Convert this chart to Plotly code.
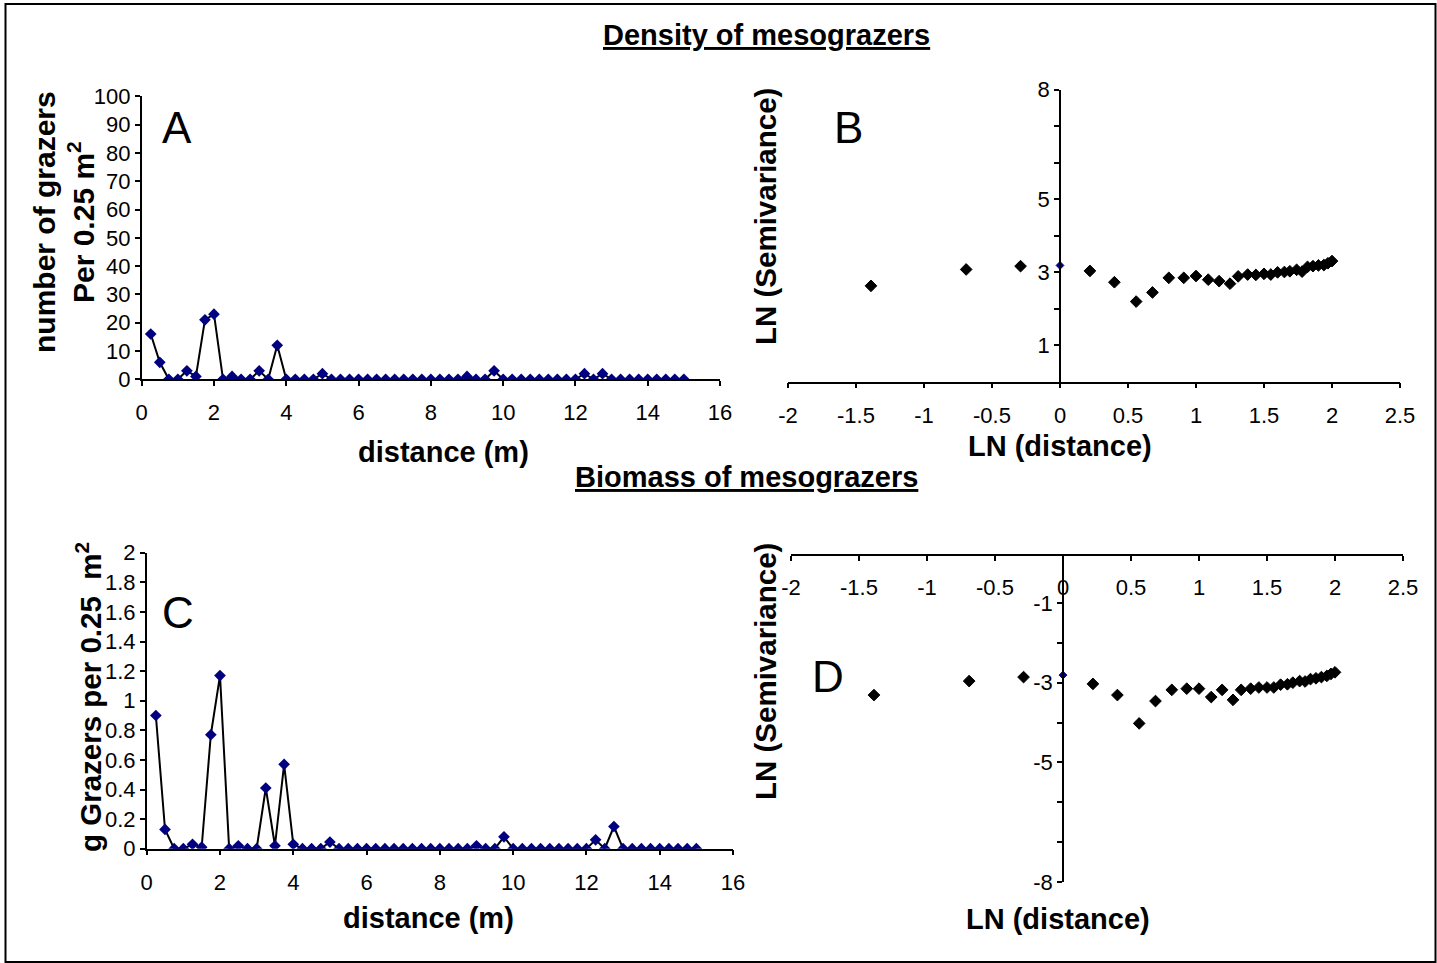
import plotly.graph_objects as go

W, H = 1437, 963

# ---------------- data ----------------
distance_m = [0.25, 0.5, 0.75, 1.0, 1.25, 1.5, 1.75, 2.0, 2.25, 2.5,
              2.75, 3.0, 3.25, 3.5, 3.75, 4.0, 4.25, 4.5, 4.75, 5.0,
              5.25, 5.5, 5.75, 6.0, 6.25, 6.5, 6.75, 7.0, 7.25, 7.5,
              7.75, 8.0, 8.25, 8.5, 8.75, 9.0, 9.25, 9.5, 9.75, 10.0,
              10.25, 10.5, 10.75, 11.0, 11.25, 11.5, 11.75, 12.0, 12.25, 12.5,
              12.75, 13.0, 13.25, 13.5, 13.75, 14.0, 14.25, 14.5, 14.75, 15.0]

density = [16, 6, 0, 0, 3, 1, 21, 23, 0, 1,
           0, 0, 3, 0, 12, 0, 0, 0, 0, 2,
           0, 0, 0, 0, 0, 0, 0, 0, 0, 0,
           0, 0, 0, 0, 0, 1, 0, 0, 3, 0,
           0, 0, 0, 0, 0, 0, 0, 0, 2, 0,
           2, 0, 0, 0, 0, 0, 0, 0, 0, 0]

biomass = [0.90, 0.13, 0, 0, 0.03, 0.01, 0.77, 1.17, 0, 0.02,
           0, 0, 0.41, 0.02, 0.57, 0.03, 0, 0, 0, 0.045,
           0, 0, 0, 0, 0, 0, 0, 0, 0, 0,
           0, 0, 0, 0, 0, 0.02, 0, 0, 0.08, 0,
           0, 0, 0, 0, 0, 0, 0, 0, 0.06, 0,
           0.15, 0, 0, 0, 0, 0, 0, 0, 0, 0]

ln_lag = [-1.39, -0.69, -0.29, 0.0, 0.22, 0.40, 0.56, 0.68, 0.80, 0.91,
          1.00, 1.09, 1.17, 1.25, 1.31, 1.38, 1.44, 1.50, 1.55, 1.60,
          1.65, 1.69, 1.74, 1.78, 1.82, 1.86, 1.90, 1.94, 1.97, 2.00]

ln_sv_density = [2.62, 3.07, 3.16, 3.18, 3.03, 2.72, 2.19, 2.44, 2.84, 2.84,
                 2.89, 2.79, 2.75, 2.68, 2.88, 2.93, 2.92, 2.95, 2.93, 2.99,
                 3.00, 3.02, 3.06, 3.01, 3.14, 3.16, 3.18, 3.19, 3.24, 3.30]

ln_sv_biomass = [-3.31, -2.96, -2.86, -2.81, -3.03, -3.31, -4.02, -3.46, -3.18, -3.15,
                 -3.15, -3.36, -3.18, -3.43, -3.18, -3.15, -3.12, -3.12, -3.12, -3.05,
                 -3.04, -3.00, -2.96, -2.97, -2.91, -2.89, -2.86, -2.83, -2.78, -2.74]

ln_x_ticks = [-2, -1.5, -1, -0.5, 0, 0.5, 1, 1.5, 2, 2.5]
ln_x_labels = ["-2", "-1.5", "-1", "-0.5", "0", "0.5", "1", "1.5", "2", "2.5"]
b_y_ticks = [1, 3, 5, 8]
b_y_labels = ["1", "3", "5", "8"]
b_y_minor = [2, 4, 6, 7]
d_y_ticks = [-1, -3, -5, -8]
d_y_labels = ["-1", "-3", "-5", "-8"]
d_y_minor = [-2, -4, -6, -7]

# ---------------- helpers ----------------
FONT = "Liberation Sans, Arial, sans-serif"
NAVY = "#000080"


def px(x):
    return x / W


def py(y):
    return 1 - y / H


fig = go.Figure()

line_style = dict(color="black", width=2)
fig.add_trace(go.Scatter(x=distance_m, y=density, mode="lines+markers",
                         line=line_style,
                         marker=dict(symbol="diamond", color=NAVY, size=9),
                         xaxis="x", yaxis="y", showlegend=False))
fig.add_trace(go.Scatter(x=distance_m, y=biomass, mode="lines+markers",
                         line=line_style,
                         marker=dict(symbol="diamond", color=NAVY, size=9),
                         xaxis="x3", yaxis="y3", showlegend=False))

pt_colors = [NAVY if v == 0 else "black" for v in ln_lag]
pt_sizes = [6 if v == 0 else 9 for v in ln_lag]

fig.add_trace(go.Scatter(x=ln_lag, y=ln_sv_density, mode="markers",
                         marker=dict(symbol="diamond", color=pt_colors, size=pt_sizes,
                                     opacity=1, line=dict(width=1, color=pt_colors)),
                         xaxis="x2", yaxis="y2", showlegend=False))
fig.add_trace(go.Scatter(x=ln_lag, y=ln_sv_biomass, mode="markers",
                         marker=dict(symbol="diamond", color=pt_colors, size=pt_sizes,
                                     opacity=1, line=dict(width=1, color=pt_colors)),
                         xaxis="x4", yaxis="y4", showlegend=False))

ax_common = dict(showline=True, linecolor="black", linewidth=1.5,
                 ticks="outside", ticklen=5, tickwidth=1.5, tickcolor="black",
                 showgrid=False, zeroline=False,
                 tickfont=dict(family=FONT, size=22, color="black"))
minor_style = dict(ticks="outside", ticklen=5, tickwidth=1.5, tickcolor="black",
                   showgrid=False)

fig.update_layout(
    width=W, height=H, autosize=False,
    margin=dict(l=0, r=0, t=0, b=0, pad=0, autoexpand=False),
    paper_bgcolor="white", plot_bgcolor="rgba(0,0,0,0)",
    font=dict(family=FONT, color="black"),
    xaxis=dict(domain=[px(141.7), px(720)], range=[0, 16], dtick=2,
               anchor="y", ticklabelstandoff=8, **ax_common),
    yaxis=dict(domain=[py(379.3), py(96.3)], range=[0, 100], dtick=10,
               anchor="x", **ax_common),
    xaxis2=dict(domain=[px(788), px(1400)], range=[-2, 2.5],
                tickvals=ln_x_ticks, ticktext=ln_x_labels,
                anchor="y2", ticklabelstandoff=8, **ax_common),
    yaxis2=dict(domain=[py(381.5), py(89.5)], range=[0, 8],
                tickvals=b_y_ticks, ticktext=b_y_labels,
                minor=dict(tickvals=b_y_minor, **minor_style),
                anchor="free", position=px(1060), **ax_common),
    xaxis3=dict(domain=[px(146.7), px(733)], range=[0, 16], dtick=2,
                anchor="y3", ticklabelstandoff=8, **ax_common),
    yaxis3=dict(domain=[py(848.7), py(552.7)], range=[0, 2], dtick=0.2,
                anchor="x3", **ax_common),
    xaxis4=dict(domain=[px(791), px(1403)], range=[-2, 2.5],
                tickvals=ln_x_ticks, ticktext=ln_x_labels,
                anchor="free", position=py(555), side="bottom",
                ticklabelstandoff=8, **ax_common),
    yaxis4=dict(domain=[py(882.2), py(555)], range=[-8, 0.2],
                tickvals=d_y_ticks, ticktext=d_y_labels,
                minor=dict(tickvals=d_y_minor, **minor_style),
                anchor="free", position=px(1063), **ax_common),
)


def note(text, x, y, size, bold=True, angle=0):
    t = f"<b>{text}</b>" if bold else text
    fig.add_annotation(text=t, x=px(x), y=py(y), xref="paper", yref="paper",
                       showarrow=False, textangle=angle,
                       xanchor="center", yanchor="middle",
                       font=dict(family=FONT, size=size, color="black"))


TS = 29
note("<u>Density of mesograzers</u>", 766, 35, TS)
note("<u>Biomass of mesograzers</u>", 747, 477, TS)
note("distance (m)", 443, 452, TS)
note("distance (m)", 428, 918, TS)
note("LN (distance)", 1060, 446, TS)
note("LN (distance)", 1058, 919, TS)
note("number of grazers<br>Per 0.25 m<sup>2</sup>", 64, 222, 30, angle=-90)
note("g Grazers per 0.25  m<sup>2</sup>", 88, 697, 29.5, angle=-90)
note("LN (Semivariance)", 765, 217, 29.5, angle=-90)
note("LN (Semivariance)", 765, 672, 29.5, angle=-90)
note("A", 177, 128, 44, bold=False)
note("B", 848, 128, 44, bold=False)
note("C", 178, 612, 44, bold=False)
note("D", 828, 676, 44, bold=False)

# outer frame
fig.add_shape(type="rect", xref="paper", yref="paper",
              x0=px(5.5), x1=px(1435.5), y0=py(962), y1=py(4),
              line=dict(color="black", width=2), fillcolor="rgba(0,0,0,0)")

fig.write_html(
    "out.html",
    config={"responsive": False},
    post_script=("document.documentElement.style.margin='0';"
                 "document.body.style.margin='0';"
                 "document.body.style.padding='0';"
                 "document.documentElement.style.overflow='hidden';"
                 "document.body.style.overflow='hidden';"),
)
